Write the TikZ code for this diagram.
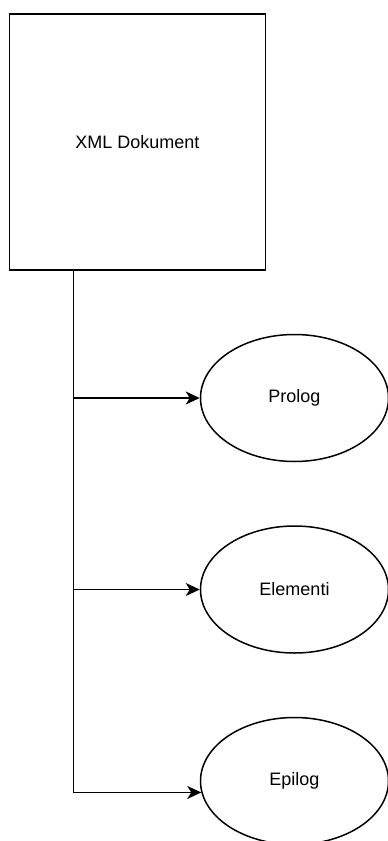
\documentclass[tikz,border=0pt]{standalone}
\usepackage{fontspec}
\setmainfont{Liberation Sans}
\usetikzlibrary{shapes.geometric,arrows.meta}
\begin{document}
\begin{tikzpicture}[x=1pt,y=-1pt,
  box/.style={draw, line width=1.5pt, minimum width=256pt, minimum height=256pt, inner sep=0pt, font=\fontsize{18}{21}\selectfont},
  oval/.style={draw, ellipse, line width=1.5pt, minimum width=188pt, minimum height=127pt, inner sep=0pt, font=\fontsize{18}{21}\selectfont},
  conn/.style={line width=1.5pt, -{Stealth[length=14pt,width=13pt,inset=4pt]}}]
\clip (0,0) rectangle (388,841);
\fill[white] (0,0) rectangle (388,841);
\node[box] (doc) at (137.3,142) {XML Dokument};
\node[oval] (prolog) at (294.5,398) {Prolog};
\node[oval] (elementi) at (294.5,589.5) {Elementi};
\node[oval] (epilog) at (294.5,781) {Epilog};
\path (doc.south west) ++(65,0) coordinate (trunk);
\draw[conn] (trunk) |- (prolog.west);
\draw[conn] (trunk) |- (elementi.west);
\draw[conn] (trunk) |- (epilog.187);
\end{tikzpicture}
\end{document}
